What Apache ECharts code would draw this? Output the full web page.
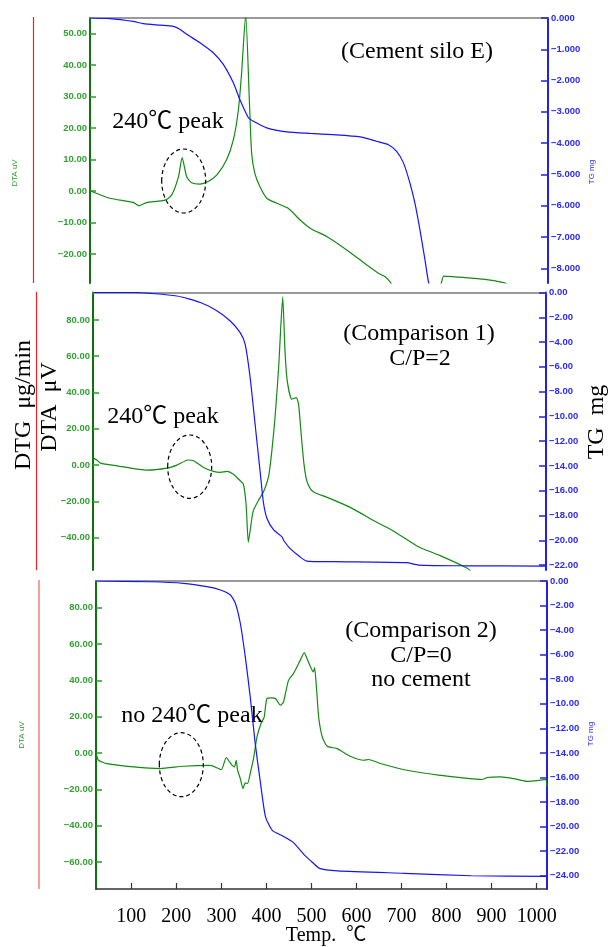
<!DOCTYPE html>
<html>
<head>
<meta charset="utf-8">
<script src="https://cdn.jsdelivr.net/npm/echarts@6/dist/echarts.min.js"></script>
<style>
body { margin: 0; background: #fff; }
#main { width: 608px; height: 947px; }
</style>
</head>
<body>
<div id="main"></div>
<script>
// temperature range shared by the three panels
var X_MIN = 21.6, X_MAX = 1023;
var xTicks = [100, 200, 300, 400, 500, 600, 700, 800, 900, 1000];

// panel 1 : cement silo E
var p1DtaT = [23, 65, 116, 129, 145, 186, 200, 215, 223, 233, 244, 262, 280, 299, 320, 335, 346, 353, 362, 370, 375, 382, 393, 408, 430, 455, 481, 503, 540, 583, 627, 652, 667, 679, 690, 735, 782, 790, 795, 815, 881, 926, 935];
var p1DtaV = [0, -2.3, -3.6, -4.7, -3.7, -2.9, -1.3, 4.5, 10.6, 4.5, 2.6, 2.2, 3.0, 5.1, 9.8, 16.2, 25.7, 37.3, 56, 28.9, 12, 5.6, 1.4, -2.3, -3.9, -5.5, -9.2, -11.8, -14.5, -18.7, -23.5, -26.1, -27.2, -29.1, -32, null, -32, -29.1, -27, -27.2, -28, -29.1, -29.8];
var p1TgT = [22, 65, 116, 138, 175, 204, 218, 233, 262, 291, 313, 335, 349, 368, 379, 408, 452, 503, 553, 612, 648, 674, 692, 707, 721, 732, 743, 754, 762, 770];
var p1TgV = [0, -0.02, -0.11, -0.18, -0.23, -0.27, -0.36, -0.52, -0.79, -1.11, -1.48, -2.07, -2.60, -3.19, -3.30, -3.51, -3.64, -3.69, -3.73, -3.80, -3.94, -4.05, -4.26, -4.63, -5.27, -5.92, -6.77, -7.73, -8.46, -8.8];
var p1LeftTicks = [-20, -10, 0, 10, 20, 30, 40, 50];
var p1RightTicks = [0, -1, -2, -3, -4, -5, -6, -7, -8];

// panel 2 : comparison 1, C/P=2
var p2DtaT = [23, 30, 38, 75, 141, 185, 207, 232, 244, 266, 288, 303, 318, 332, 347, 354, 360, 365, 371, 376, 387, 398, 410, 417, 424, 432, 437, 441, 446, 451, 461, 471, 476, 483, 488, 494, 502, 510, 539, 590, 649, 678, 737, 748, 789, 848, 860];
var p2DtaV = [3.7, 2.8, 1.1, -0.4, -2.8, -1.7, 0, 2.8, 2.4, -1.3, -3.5, -4.0, -3.5, -5.0, -8.6, -10.5, -21.5, -42.5, -32.5, -25.1, -19.6, -15, -5.9, 7.9, 26.2, 53.8, 77.6, 92.6, 62.9, 46.4, 36.3, 37.2, 33.6, 13.4, 0.5, -8.6, -13, -15, -17.8, -23.3, -31.5, -35.2, -44.4, -45.8, -49.9, -56.7, -59];
var p2TgT = [23, 111, 207, 259, 296, 325, 347, 358, 369, 380, 391, 398, 406, 421, 439, 444, 457, 479, 494, 553, 715, 741, 848, 1014, 1023];
var p2TgV = [0, 0, -0.28, -0.81, -1.49, -2.30, -3.24, -4.19, -6.88, -10.66, -14.44, -16.87, -18.22, -19.17, -19.71, -20.06, -20.65, -21.33, -21.68, -21.73, -21.81, -22.0, -22.06, -22.08, -22.08];
var p2LeftTicks = [-40, -20, 0, 20, 40, 60, 80];
var p2RightTicks = [0, -2, -4, -6, -8, -10, -12, -14, -16, -18, -20, -22];

// panel 3 : comparison 2, C/P=0
var p3DtaT = [22, 27, 46, 105, 164, 216, 275, 294, 300, 311, 318, 324, 329, 333, 336, 342, 348, 353, 358, 364, 372, 379, 388, 395, 401, 412, 420, 431, 438, 449, 460, 475, 484, 490, 498, 504, 507, 511, 516, 524, 535, 557, 586, 616, 627, 653, 712, 786, 879, 890, 920, 949, 979, 1008, 1020, 1023];
var p3DtaV = [0, -4, -5.9, -7.7, -8.6, -7.3, -6.8, -8.6, -9.2, -2.5, -4.9, -6.8, -7.7, -4.0, -9.5, -14.1, -19.6, -16.5, -16.8, -11.3, -2.2, 8.8, 16.2, 19.8, 29.9, 30.3, 30.0, 26.3, 28.1, 40.0, 43.7, 51.0, 55.3, 52, 47.3, 44.6, 47.0, 36.3, 19.8, 8.8, 3.7, 2.4, -1.8, -4.0, -3.6, -5.8, -9.5, -12.3, -14.6, -13.5, -13.2, -14.1, -15.6, -15.0, -14.6, -18.7];
var p3TgT = [22, 142, 216, 268, 298, 320, 331, 342, 353, 364, 375, 387, 398, 413, 438, 460, 484, 499, 518, 558, 706, 855, 1021];
var p3TgV = [0, -0.06, -0.19, -0.46, -0.73, -1.14, -1.81, -3.44, -6.16, -9.41, -13.2, -16.5, -19.2, -20.3, -20.8, -21.3, -22.3, -22.8, -23.4, -23.6, -23.8, -24.0, -24.05];
var p3LeftTicks = [-60, -40, -20, 0, 20, 40, 60, 80];
var p3RightTicks = [0, -2, -4, -6, -8, -10, -12, -14, -16, -18, -20, -22, -24];

var GREEN = '#138a13', BLUE = '#1515f5';
var SERIF = '"Liberation Serif", "Times New Roman", "Noto Sans CJK JP", serif';

function zip(ts, vs) {
	var out = [];
	for (var i = 0; i < ts.length; i++) {
		out.push([ts[i], vs[i] == null ? '-' : vs[i]]);
	}
	return out;
}

function fmt(digits) {
	return function(v) {
		return v.toFixed(digits).replace('-', '\u2212');
	};
}

function topX(gi) {
	return {
		type: 'value', gridIndex: gi, position: 'top', min: X_MIN, max: X_MAX,
		axisLine: { show: true, onZero: false, lineStyle: { color: '#7a7a7a', width: 1.5 } },
		axisTick: { show: false }, axisLabel: { show: false }, splitLine: { show: false }
	};
}

function leftY(gi, min, max, ticks) {
	return {
		type: 'value', gridIndex: gi, position: 'left', min: min, max: max,
		axisLine: { show: true, onZero: false, lineStyle: { color: '#0b750b', width: 2 } },
		axisTick: { show: true, inside: true, length: 6, customValues: ticks, lineStyle: { color: '#2a9a2a', width: 1.5 } },
		axisLabel: { customValues: ticks, formatter: fmt(2), color: '#34a034', fontSize: 9.5, fontWeight: 'bold', fontFamily: 'Liberation Sans', margin: 3 },
		splitLine: { show: false }
	};
}

function rightY(gi, min, max, ticks, digits) {
	return {
		type: 'value', gridIndex: gi, position: 'right', min: min, max: max,
		axisLine: { show: true, onZero: false, lineStyle: { color: '#2222e0', width: 2 } },
		axisTick: { show: true, inside: true, length: 7, customValues: ticks, lineStyle: { color: '#2222e0', width: 1.5 } },
		axisLabel: { customValues: ticks, formatter: fmt(digits), color: '#2a2af0', fontSize: 9.5, fontWeight: 'bold', fontFamily: 'Liberation Sans', margin: 3 },
		splitLine: { show: false }
	};
}

function line(data, xi, yi, color) {
	return {
		type: 'line', data: data, xAxisIndex: xi, yAxisIndex: yi,
		showSymbol: false, smooth: 0.2, clip: true,
		lineStyle: { color: color, width: 1.2 }, itemStyle: { color: color }
	};
}

function txt(s, x, y, size, color, rot, family) {
	return {
		type: 'text', x: x, y: y, rotation: rot || 0, z: 100,
		style: { text: s, fontSize: size, fontFamily: family || SERIF, fill: color || '#000', align: 'center', verticalAlign: 'middle' }
	};
}

function vline(x, y1, y2, color) {
	return { type: 'line', z: 100, shape: { x1: x, y1: y1, x2: x, y2: y2 }, style: { stroke: color, lineWidth: 1.2 } };
}

function oval(cx, cy, rx, ry) {
	return { type: 'ellipse', z: 100, shape: { cx: cx, cy: cy, rx: rx, ry: ry }, style: { fill: 'none', stroke: '#000', lineWidth: 1.2, lineDash: [4, 3] } };
}

var chart = echarts.init(document.getElementById('main'));

var bottomX = {
	type: 'value', gridIndex: 2, position: 'bottom', min: X_MIN, max: X_MAX,
	axisLine: { show: true, onZero: false, lineStyle: { color: '#333', width: 1.5 } },
	axisTick: { show: true, inside: true, length: 6, customValues: xTicks, lineStyle: { color: '#333', width: 1.2 } },
	axisLabel: { customValues: xTicks, formatter: function(v) { return String(v); }, color: '#000', fontSize: 20, fontFamily: SERIF, margin: 18 },
	splitLine: { show: false }
};

var option = {
	animation: false,
	backgroundColor: '#fff',
	grid: [
		{ left: 90, top: 18, width: 458, height: 265 },
		{ left: 93, top: 292.5, width: 453, height: 277.5 },
		{ left: 96, top: 581, width: 451, height: 308 }
	],
	xAxis: [topX(0), topX(1), topX(2), bottomX],
	yAxis: [
		leftY(0, -29.2, 54.9, p1LeftTicks),
		rightY(0, -8.47, 0, p1RightTicks, 3),
		leftY(1, -57.8, 95.1, p2LeftTicks),
		rightY(1, -22.4, 0, p2RightTicks, 2),
		leftY(2, -74.9, 94.7, p3LeftTicks),
		rightY(2, -25.08, 0, p3RightTicks, 2)
	],
	series: [
		line(zip(p1DtaT, p1DtaV), 0, 0, GREEN),
		line(zip(p1TgT, p1TgV), 0, 1, BLUE),
		line(zip(p2DtaT, p2DtaV), 1, 2, GREEN),
		line(zip(p2TgT, p2TgV), 1, 3, BLUE),
		line(zip(p3DtaT, p3DtaV), 3, 4, GREEN),
		line(zip(p3TgT, p3TgV), 3, 5, BLUE)
	],
	graphic: [
		vline(33.5, 17, 283, '#ee2020'),
		vline(36.5, 292, 570, '#ee2020'),
		vline(39, 580, 889, '#f26060'),
		// axis names
		txt('DTA uV', 15, 173, 8, '#2a9a2a', Math.PI / 2, 'Liberation Sans'),
		txt('TG mg', 592, 172, 8, '#2a2af0', Math.PI / 2, 'Liberation Sans'),
		txt('DTG  \u03bcg/min', 24, 405, 24, '#000', Math.PI / 2),
		txt('DTA  \u03bcV', 50, 407, 24, '#000', Math.PI / 2),
		txt('TG  mg', 597, 422, 24, '#000', Math.PI / 2),
		txt('DTA uV', 21.5, 735, 8, '#2a9a2a', Math.PI / 2, 'Liberation Sans'),
		txt('TG mg', 591, 734, 8, '#2a2af0', Math.PI / 2, 'Liberation Sans'),
		// annotations
		txt('(Cement silo E)', 417, 52, 24),
		txt('240\u2103 peak', 168, 122, 24),
		oval(183.7, 181, 22, 32),
		txt('(Comparison 1)', 419, 334, 24),
		txt('C/P=2', 420, 359, 24),
		txt('240\u2103 peak', 163, 417, 24),
		oval(189.7, 466.7, 22, 31.7),
		txt('(Comparison 2)', 421, 631, 24),
		txt('C/P=0', 421, 655.5, 24),
		txt('no cement', 421, 680, 24),
		txt('no 240\u2103 peak', 192, 716, 24),
		oval(181.3, 764.7, 22, 32),
		txt('Temp.  \u2103', 326, 936, 20)
	]
};

chart.setOption(option);
</script>
</body>
</html>
